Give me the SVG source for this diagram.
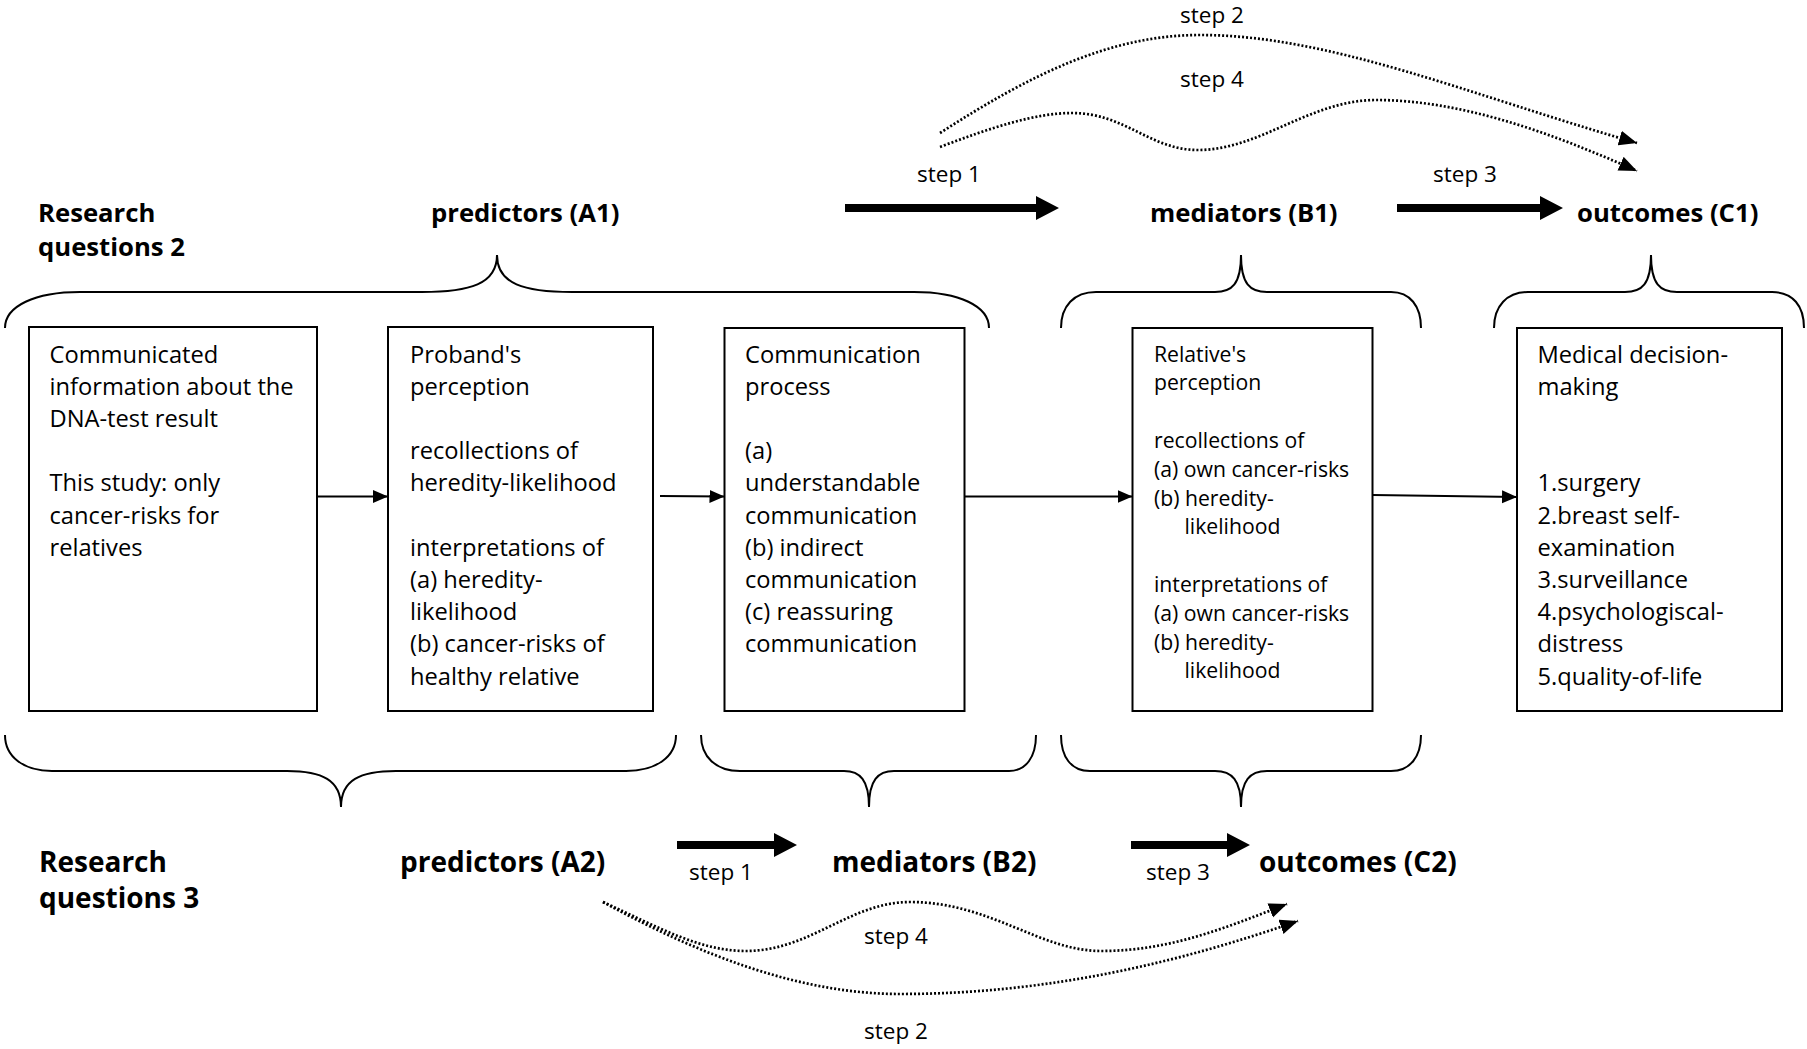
<svg xmlns="http://www.w3.org/2000/svg" width="1807" height="1049" viewBox="0 0 1807 1049">
<defs>
<style>
.box{fill:#fff;stroke:#000;stroke-width:2}
.t{font-family:"Open Sans","Noto Sans",sans-serif;font-size:23.7px;fill:#000}
.ts{font-family:"Open Sans","Noto Sans",sans-serif;font-size:21.2px;fill:#000}
.h1{font-family:"Open Sans","Noto Sans",sans-serif;font-size:25.7px;font-weight:bold;fill:#000}
.h2{font-family:"Open Sans","Noto Sans",sans-serif;font-size:28px;font-weight:bold;fill:#000}
.st{font-family:"Open Sans","Noto Sans",sans-serif;font-size:22.5px;fill:#000}
.brace{fill:none;stroke:#000;stroke-width:2}
.thin{fill:none;stroke:#000;stroke-width:2;marker-end:url(#ah)}
.dot{fill:none;stroke:#000;stroke-width:2.7;stroke-dasharray:2 2;marker-end:url(#dh)}
.thick{fill:#000;stroke:none}
</style>
<marker id="ah" markerUnits="userSpaceOnUse" markerWidth="16" markerHeight="14" refX="15" refY="6.5" orient="auto">
<path d="M0,0 L15,6.5 L0,13 z" fill="#000"/>
</marker>
<marker id="dh" markerUnits="userSpaceOnUse" markerWidth="19" markerHeight="16" refX="18" refY="7.5" orient="auto">
<path d="M0,0 L18,7.5 L0,15 z" fill="#000"/>
</marker>
</defs>
<rect width="1807" height="1049" fill="#fff"/>

<g id="labels-rq2">
<text class="h1" x="38" y="222">Research</text>
<text class="h1" x="38" y="256">questions 2</text>
<text class="h1" x="431" y="222">predictors (A1)</text>
<text class="h1" x="1150" y="222">mediators (B1)</text>
<text class="h1" x="1577" y="222">outcomes (C1)</text>
</g>

<g id="labels-rq3">
<text class="h2" x="39" y="872">Research</text>
<text class="h2" x="39" y="908">questions 3</text>
<text class="h2" x="400" y="872">predictors (A2)</text>
<text class="h2" x="832" y="872">mediators (B2)</text>
<text class="h2" x="1259" y="872">outcomes (C2)</text>
</g>

<g id="braces">
<path class="brace" d="M5,328 C5,306 35,292 80,292 L422,292 C470,292 497,284 497,255 C497,284 524,292 572,292 L914,292 C959,292 989,306 989,328"/>
<path class="brace" d="M1061,328 C1061,306 1074,292 1096,292 L1215,292 C1232,292 1241,284 1241,255 C1241,284 1250,292 1267,292 L1391,292 C1410,292 1421,306 1421,328"/>
<path class="brace" d="M1494,328 C1494,306 1507,292 1528,292 L1625,292 C1642,292 1651,284 1651,255 C1651,284 1660,292 1677,292 L1772,292 C1793,292 1804,306 1804,328"/>
<path class="brace" d="M5,735 C5,757 24,771 52,771 L287,771 C322,771 341,780 341,807 C341,780 360,771 396,771 L626,771 C656,771 676,757 676,735"/>
<path class="brace" d="M701,735 C701,757 716,771 740,771 L844,771 C860,771 869,780 869,807 C869,780 878,771 894,771 L1009,771 C1026,771 1036,757 1036,735"/>
<path class="brace" d="M1061,735 C1061,757 1071,771 1090,771 L1215,771 C1232,771 1241,780 1241,807 C1241,780 1250,771 1267,771 L1391,771 C1410,771 1421,757 1421,735"/>
</g>

<g id="box1">
<rect class="box" x="29" y="327" width="288" height="384"/>
<text class="t"><tspan x="49.5" y="362.5">Communicated</tspan><tspan x="49.5" y="394.7">information about the</tspan><tspan x="49.5" y="426.9">DNA-test result</tspan><tspan x="49.5" y="491.3">This study: only</tspan><tspan x="49.5" y="523.5">cancer-risks for</tspan><tspan x="49.5" y="555.7">relatives</tspan></text>
</g>

<g id="box2">
<rect class="box" x="388" y="327" width="265" height="384"/>
<text class="t"><tspan x="410" y="362.5">Proband's</tspan><tspan x="410" y="394.7">perception</tspan><tspan x="410" y="459.1">recollections of</tspan><tspan x="410" y="491.3">heredity-likelihood</tspan><tspan x="410" y="555.7">interpretations of</tspan><tspan x="410" y="587.9">(a) heredity-</tspan><tspan x="410" y="620.1">likelihood</tspan><tspan x="410" y="652.3">(b) cancer-risks of</tspan><tspan x="410" y="684.5">healthy relative</tspan></text>
</g>

<g id="box3">
<rect class="box" x="724.5" y="328" width="240" height="383"/>
<text class="t"><tspan x="745" y="362.5">Communication</tspan><tspan x="745" y="394.7">process</tspan><tspan x="745" y="459.1">(a)</tspan><tspan x="745" y="491.3">understandable</tspan><tspan x="745" y="523.5">communication</tspan><tspan x="745" y="555.7">(b) indirect</tspan><tspan x="745" y="587.9">communication</tspan><tspan x="745" y="620.1">(c) reassuring</tspan><tspan x="745" y="652.3">communication</tspan></text>
</g>

<g id="box4">
<rect class="box" x="1132.5" y="328" width="240" height="383"/>
<text class="ts"><tspan x="1154" y="361.5">Relative's</tspan><tspan x="1154" y="390.3">perception</tspan><tspan x="1154" y="447.9">recollections of</tspan><tspan x="1154" y="476.7">(a) own cancer-risks</tspan><tspan x="1154" y="505.5">(b) heredity-</tspan><tspan x="1184.5" y="534.3">likelihood</tspan><tspan x="1154" y="591.9">interpretations of</tspan><tspan x="1154" y="620.7">(a) own cancer-risks</tspan><tspan x="1154" y="649.5">(b) heredity-</tspan><tspan x="1184.5" y="678.3">likelihood</tspan></text>
</g>

<g id="box5">
<rect class="box" x="1517" y="328" width="265" height="383"/>
<text class="t"><tspan x="1537.5" y="362.5">Medical decision-</tspan><tspan x="1537.5" y="394.7">making</tspan><tspan x="1537.5" y="491.3">1.surgery</tspan><tspan x="1537.5" y="523.5">2.breast self-</tspan><tspan x="1537.5" y="555.7">examination</tspan><tspan x="1537.5" y="587.9">3.surveillance</tspan><tspan x="1537.5" y="620.1">4.psychologiscal-</tspan><tspan x="1537.5" y="652.3">distress</tspan><tspan x="1537.5" y="684.5">5.quality-of-life</tspan></text>
</g>

<g id="connectors">
<path class="thin" d="M317,496.5 L388,496.5"/>
<path class="thin" d="M660,496 L724.5,496.5"/>
<path class="thin" d="M965,496.5 L1132.5,496.5"/>
<path class="thin" d="M1373,495 L1517,497"/>

<polygon class="thick" points="845,204 1036,204 1036,196 1059,208 1036,220 1036,212 845,212"/>
<polygon class="thick" points="1397,204 1540,204 1540,196 1563,208 1540,220 1540,212 1397,212"/>
<polygon class="thick" points="677,841 774,841 774,833 797,845 774,857 774,849 677,849"/>
<polygon class="thick" points="1131,841 1227,841 1227,833 1250,845 1227,857 1227,849 1131,849"/>

<path class="dot" d="M940,133 C1030,75 1110,35 1200,35 C1330,35 1470,95 1637,143"/>
<path class="dot" d="M940,147 C990,128 1035,113 1072,113 C1125,113 1150,150 1198,150 C1260,150 1310,100 1376,100 C1460,100 1550,132 1637,171"/>
<path class="dot" d="M603,902 C660,928 700,951 746,951 C810,951 850,902 910,902 C990,902 1040,951 1101,951 C1170,951 1225,928 1287,904"/>
<path class="dot" d="M603,902 C700,955 800,994 900,994 C1050,994 1180,962 1298,921"/>

<text class="st" x="917" y="181.7">step 1</text>
<text class="st" x="1433" y="181.7">step 3</text>
<text class="st" x="1180" y="22.7">step 2</text>
<text class="st" x="1180" y="87.3">step 4</text>
<text class="st" x="689" y="880">step 1</text>
<text class="st" x="1146" y="880">step 3</text>
<text class="st" x="864" y="944">step 4</text>
<text class="st" x="864" y="1039">step 2</text>
</g>
</svg>
